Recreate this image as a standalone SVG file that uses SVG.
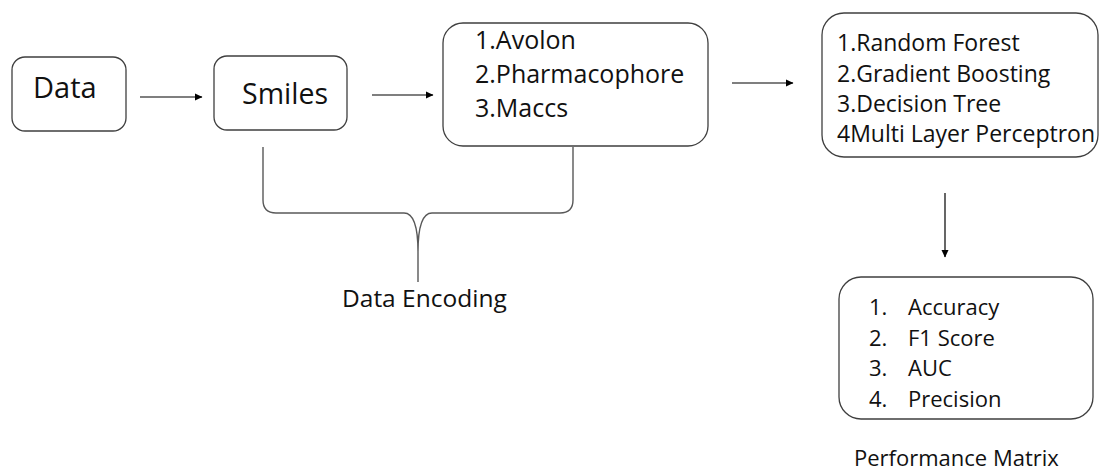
<svg xmlns="http://www.w3.org/2000/svg" width="1099" height="470" viewBox="0 0 1099 470">
  <defs>
    <marker id="arrowhead" markerWidth="8" markerHeight="8" refX="7" refY="4" orient="auto" markerUnits="userSpaceOnUse">
      <path d="M0,0.5 L7.5,4 L0,7.5 Z" fill="#000"/>
    </marker>
    <style>
      .box { fill: #fff; stroke: #3f3f3f; stroke-width: 1.3; }
      .txt { font-family: "Open Sans", "Liberation Sans", sans-serif; fill: #111; }
      .conn { stroke: #000; stroke-width: 1.2; fill: none; marker-end: url(#arrowhead); }
      .brace { stroke: #595959; stroke-width: 1.4; fill: none; }
    </style>
  </defs>
  <rect width="1099" height="470" fill="#fff"/>

  <!-- pipeline connectors -->
  <g id="connectors">
    <line class="conn" x1="140" y1="97" x2="202" y2="97"/>
    <line class="conn" x1="372" y1="95" x2="433" y2="95"/>
    <line class="conn" x1="732" y1="83" x2="793" y2="83"/>
    <line class="conn" x1="945" y1="193" x2="945" y2="257"/>
    <path class="brace" d="M263,147 L263,200 Q263,213 276,213 L404,213 Q418,213 418,252 L418,282 M418,252 Q418,213 432,213 L560,213 Q573,213 573,200 L573,147"/>
  </g>

  <g id="node-data">
    <rect class="box" x="12" y="57" width="114" height="74" rx="13"/>
    <text class="txt" x="33" y="98" font-size="29">Data</text>
  </g>

  <g id="node-smiles">
    <rect class="box" x="214" y="56" width="133" height="74" rx="13"/>
    <text class="txt" x="242" y="104" font-size="28.5">Smiles</text>
  </g>

  <g id="node-encoding">
    <rect class="box" x="443" y="23" width="265" height="123" rx="20"/>
    <text class="txt" font-size="25">
      <tspan x="475" y="49">1.Avolon</tspan>
      <tspan x="475" y="83">2.Pharmacophore</tspan>
      <tspan x="475" y="117">3.Maccs</tspan>
    </text>
  </g>

  <g id="node-models">
    <rect class="box" x="822" y="13" width="276" height="144" rx="22"/>
    <text class="txt" font-size="23">
      <tspan x="837" y="51">1.Random Forest</tspan>
      <tspan x="837" y="82">2.Gradient Boosting</tspan>
      <tspan x="837" y="112">3.Decision Tree</tspan>
      <tspan x="837" y="142">4Multi Layer Perceptron</tspan>
    </text>
  </g>

  <g id="node-metrics">
    <rect class="box" x="839" y="277" width="254" height="142" rx="22"/>
    <text class="txt" font-size="22">
      <tspan x="869" y="315">1.</tspan>
      <tspan x="908" y="315">Accuracy</tspan>
      <tspan x="869" y="346">2.</tspan>
      <tspan x="908" y="346">F1 Score</tspan>
      <tspan x="869" y="376">3.</tspan>
      <tspan x="908" y="376">AUC</tspan>
      <tspan x="869" y="407">4.</tspan>
      <tspan x="908" y="407">Precision</tspan>
    </text>
  </g>

  <g id="label-encoding">
    <text class="txt" x="342" y="307" font-size="24.5">Data Encoding</text>
  </g>

  <g id="label-performance">
    <text class="txt" x="854" y="466" font-size="22">Performance Matrix</text>
  </g>
</svg>
